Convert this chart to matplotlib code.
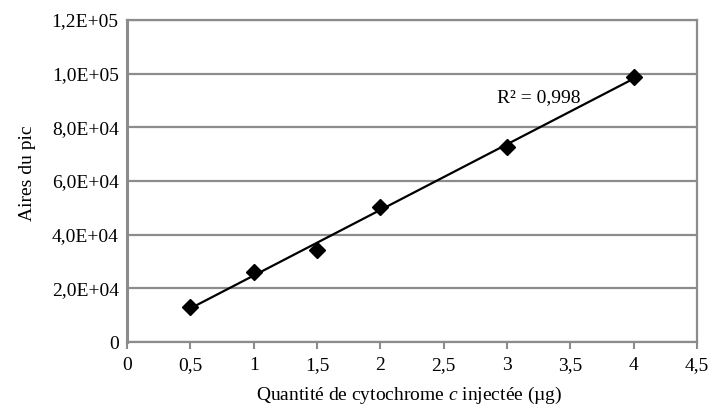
import numpy as np
import matplotlib
matplotlib.use('Agg')
import matplotlib.pyplot as mp

mp.rcParams['font.family'] = ['Liberation Serif', 'DejaVu Serif']
mp.rcParams['mathtext.fontset'] = 'custom'
mp.rcParams['mathtext.rm'] = 'Liberation Serif'
mp.rcParams['mathtext.it'] = 'Liberation Serif:italic'

# amounts injected (ug) and peak areas
quantite = [0.5, 1, 1.5, 2, 3, 4]
aires = [12900, 26200, 34300, 50200, 72800, 98900]
r2_text = 'R² = 0,998'

x_ticks = [0, 0.5, 1, 1.5, 2, 2.5, 3, 3.5, 4, 4.5]
x_tick_labels = ['0', '0,5', '1', '1,5', '2', '2,5', '3', '3,5', '4', '4,5']
y_ticks = [0, 20000, 40000, 60000, 80000, 100000, 120000]
y_tick_labels = ['0', '2,0E+04', '4,0E+04', '6,0E+04', '8,0E+04', '1,0E+05', '1,2E+05']

grey = '#8c8c8c'

fig = mp.figure(figsize=(7.1, 4.07), dpi=100)
ax = fig.add_axes([0.1789, 0.1597, 0.8028, 0.7912])

# linear trend line over the data range
coef = np.polyfit(quantite, aires, 1)
xl = np.array([min(quantite), max(quantite)])
ax.plot(xl, np.polyval(coef, xl), color='black', lw=1.6, zorder=3)
ax.plot(quantite, aires, linestyle='none', marker='D', ms=8, color='black', zorder=4)

ax.set_xlim(0, 4.5)
ax.set_ylim(0, 120000)
ax.set_xticks(x_ticks)
ax.set_xticklabels(x_tick_labels)
ax.set_yticks(y_ticks)
ax.set_yticklabels(y_tick_labels)
ax.tick_params(axis='x', direction='out', length=5, width=1.5, color=grey, pad=6, labelsize=14)
ax.tick_params(axis='y', length=0, pad=6, labelsize=14)

ax.grid(True, axis='y', color=grey, lw=1.6)
ax.set_axisbelow(True)
for side in ['left', 'bottom', 'right', 'top']:
    ax.spines[side].set_color(grey)
    ax.spines[side].set_linewidth(1.6)
ax.spines['left'].set_linewidth(2.2)

ax.text(2.92, 91000, r2_text, fontsize=14, va='center', ha='left')

ax.set_ylabel('Aires du pic', fontsize=14)
ax.yaxis.set_label_coords(-0.16, 0.525)
ax.set_xlabel('Quantité de cytochrome $c$ injectée (µg)', fontsize=14)
ax.xaxis.set_label_coords(0.496, -0.132)

fig.savefig('out.png', dpi=100)
